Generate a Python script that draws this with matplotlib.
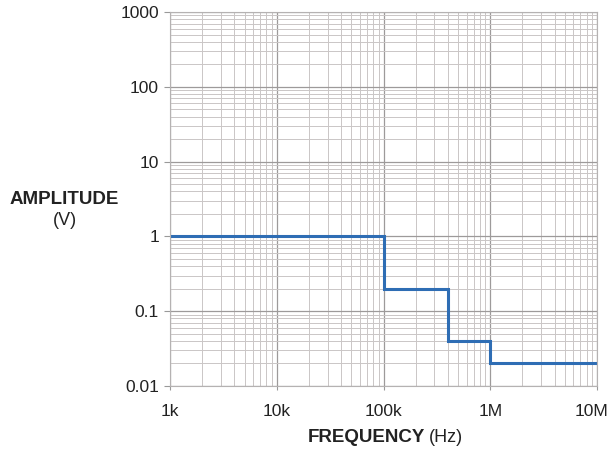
import matplotlib
matplotlib.use("Agg")
import matplotlib.pyplot as plt
import matplotlib.transforms as mtransforms
from matplotlib.ticker import FixedLocator, LogLocator, NullFormatter

plt.rcParams['font.family'] = ['Liberation Sans', 'DejaVu Sans']

# step edges (Hz) and amplitude levels (V)
freq = [1e3, 1e5, 4e5, 1e6, 1e7]
amp = [1, 0.2, 0.04, 0.02]

x_ticks = [1e3, 1e4, 1e5, 1e6, 1e7]
x_labels = ['1k', '10k', '100k', '1M', '10M']
y_ticks = [0.01, 0.1, 1, 10, 100, 1000]
y_labels = ['0.01', '0.1', '1', '10', '100', '1000']

fig = plt.figure(figsize=(6.12, 4.5), dpi=100)
ax = fig.add_axes([170/612, 64/450, 427/612, 374/450])

ax.stairs(amp, freq, color='#2e6db4', linewidth=2.2, baseline=None)

ax.set_xscale('log')
ax.set_yscale('log')
ax.set_xlim(1e3, 1e7)
ax.set_ylim(0.01, 1000)

ax.xaxis.set_major_locator(FixedLocator(x_ticks))
ax.set_xticklabels(x_labels)
ax.yaxis.set_major_locator(FixedLocator(y_ticks))
ax.set_yticklabels(y_labels)
ax.xaxis.set_minor_locator(LogLocator(base=10, subs=range(2, 10)))
ax.yaxis.set_minor_locator(LogLocator(base=10, subs=range(2, 10)))
ax.xaxis.set_minor_formatter(NullFormatter())
ax.yaxis.set_minor_formatter(NullFormatter())

ax.grid(True, which='major', color='#9d9a9a', linewidth=0.9)
ax.grid(True, which='minor', color='#cac6c6', linewidth=0.7)
ax.set_axisbelow(True)

for s in ax.spines.values():
    s.set_color('#b5b2b2')
    s.set_linewidth(0.8)

ax.tick_params(axis='y', which='major', length=4, color='#999999', labelsize=12.5,
               labelcolor='#222222', pad=4)
ax.tick_params(axis='x', which='major', length=3, color='#999999', labelsize=12.5,
               labelcolor='#222222', pad=10)
ax.tick_params(which='minor', length=0)

# pull the last x label in so it stays on the canvas
last = ax.get_xticklabels()[-1]
last.set_transform(last.get_transform() +
                   mtransforms.ScaledTranslation(-5/100, 0, fig.dpi_scale_trans))

fig.text(64/612, 1 - 199/450, 'AMPLITUDE', fontsize=13.5, fontweight='bold',
         ha='center', va='center', color='#222222')
fig.text(65/612, 1 - 221/450, '(V)', fontsize=13, ha='center', va='center',
         color='#222222')

fig.text(308/612, 1 - 438/450, 'FREQUENCY', fontsize=13.5, fontweight='bold',
         ha='left', va='center', color='#222222')
fig.text(429/612, 1 - 438/450, '(Hz)', fontsize=13, ha='left', va='center',
         color='#222222')

fig.savefig('out.png', dpi=100)
